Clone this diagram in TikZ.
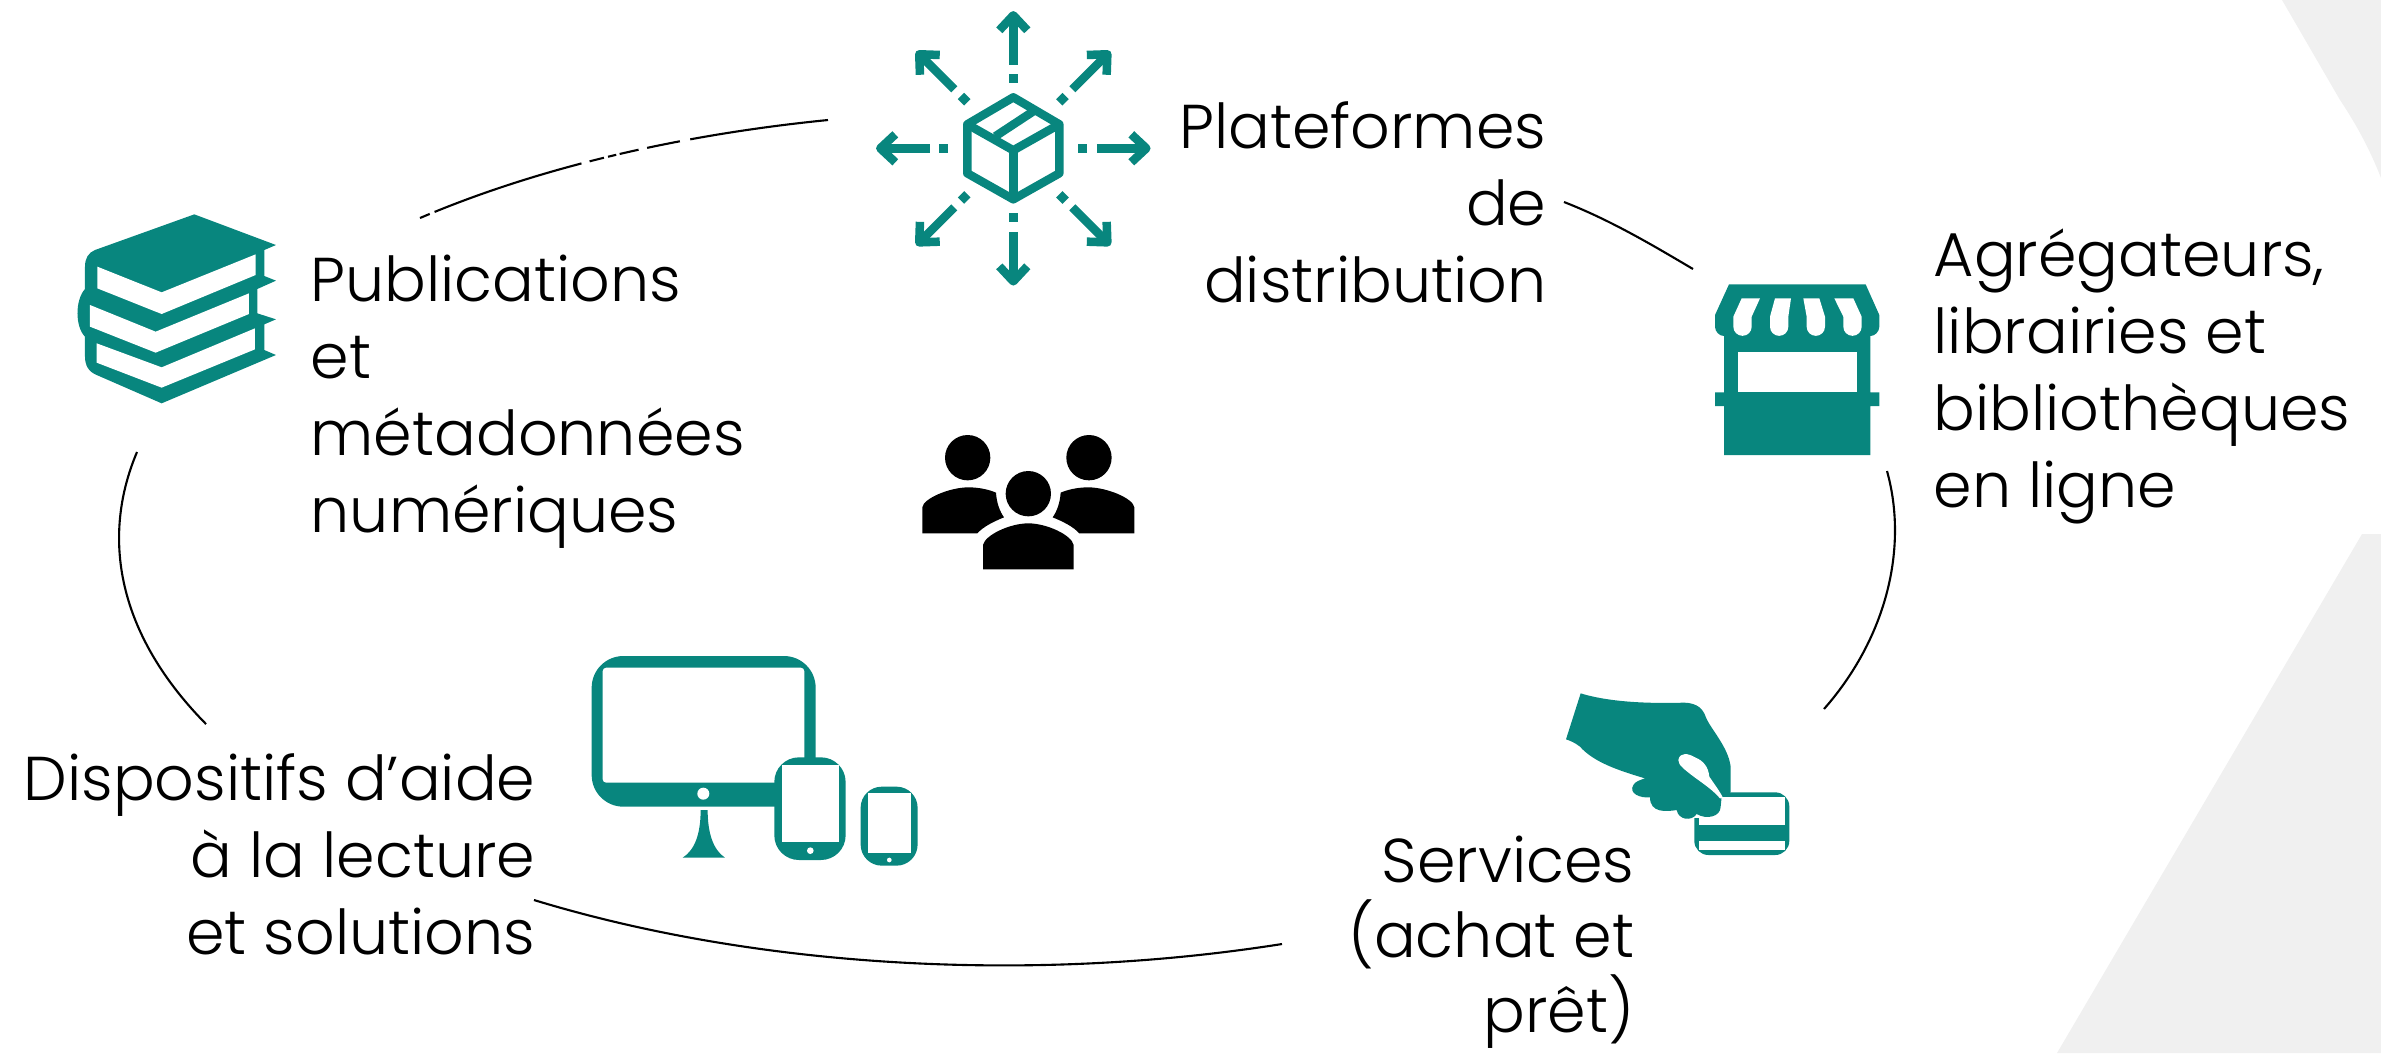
\documentclass[tikz,border=0pt]{standalone}
\usepackage{fontspec}
\setmainfont{Poppins Light}
\definecolor{sarcelle}{HTML}{08867E}
\definecolor{fond}{HTML}{F0F0F0}
\tikzset{
    etiquette/.style={inner sep=0pt,font=\fontsize{17.6}{21.9}\selectfont},
    icone/.style={fill=sarcelle,draw=none},
    creux/.style={fill=white,draw=none},
    ligne/.style={black,line width=0.6pt},
    trait/.style={sarcelle,line width=0.085cm,line join=round}
}
\begin{document}
\begin{tikzpicture}[x=0.01cm,y=-0.01cm]
\useasboundingbox (0,0) rectangle (2381,1053);

%Fond
\fill[fond] (2282,0) -- (2340,100) .. controls (2360,130) and (2372,155) .. (2381,178) -- (2381,0) -- cycle;
\fill[fond] (2381,534) -- (2362,534) -- (2057,1053) -- (2381,1053) -- cycle;

%Etiquettes
\node[etiquette,anchor=north east,align=right] (plateformes) at (1547,101) {Plateformes\\de\\distribution};
\node[etiquette,anchor=north west,align=left] (publications) at (310,254) {Publications\\et\\métadonnées\\numériques};
\node[etiquette,anchor=north west,align=left] (agregateurs) at (1933,228) {Agrégateurs,\\librairies et\\bibliothèques\\en ligne};
\node[etiquette,anchor=north east,align=right] (dispositifs) at (536,753) {Dispositifs d’aide\\à la lecture\\et solutions};
\node[etiquette,anchor=north east,align=right,font=\fontsize{17.6}{21.3}\selectfont] (services) at (1635,835) {Services\\(achat et\\prêt)};

%Liaisons
\coordinate (publiA) at (420,218);
\coordinate (platA) at (828,120);
\coordinate (platB) at (1564,202);
\coordinate (agregA) at (1693,269);
\coordinate (agregB) at (1887,471);
\coordinate (servA) at (1824,709);
\coordinate (servB) at (1282,944);
\coordinate (dispA) at (534,900);
\coordinate (dispB) at (206,724);
\coordinate (publiB) at (137,452);
\draw[ligne,dash pattern=on 3pt off 1.5pt on 44pt off 2.4pt on 4.2pt off 1.2pt on 2.4pt off 1pt on 5.5pt off 2.5pt on 9.5pt off 3pt on 60pt] (publiA) .. controls (536,168.5) and (676.4,135.1) .. (platA);
\draw[ligne] (platB) .. controls (1611.5,220.5) and (1654.3,246.2) .. (agregA);
\draw[ligne] (agregB) .. controls (1908.4,547.6) and (1886.6,637.8) .. (servA);
\draw[ligne] (servB) .. controls (1031.4,983.5) and (756.9,968) .. (dispA);
\draw[ligne] (dispB) .. controls (122.6,639.5) and (98.3,543.7) .. (publiB);

%Colis et fleches
\begin{scope}[shift={(1013.3,148.3)}]
\foreach \a in {0,45,...,315}{
    \begin{scope}[rotate=\a]
    \fill[sarcelle] (-4.5,-74) rectangle (4.5,-65);
    \draw[trait] (0,-83.5) -- (0,-130);
    \draw[trait] (-14,-118) -- (0,-133) -- (14,-118);
    \end{scope}
}
\draw[trait] (0,-51) -- (46,-24) -- (46,25) -- (0,51) -- (-46,25) -- (-46,-24) -- cycle;
\draw[trait] (-46,-24) -- (0,2) -- (46,-24);
\draw[trait] (0,2) -- (0,51);
\draw[trait] (-18,-12) -- (20,-37);
\end{scope}

%Livres
\begin{scope}[shift={(50,190)},scale=0.3333]
\fill[icone] (433,73) -- (678,165) -- (643,180) -- (643,258) -- (678,272) -- (622,297) -- (622,370) -- (678,388) -- (643,403) -- (643,480) -- (678,495) -- (335,640) -- (140,555) .. controls (115,545) and (105,525) .. (105,500) -- (105,440) .. controls (75,410) and (75,330) .. (105,297) -- (105,230) .. controls (105,205) and (115,188) .. (135,180) -- cycle;
\fill[creux] (142,230) -- (335,307) -- (617,193) -- (617,255) -- (335,372) -- (142,295) -- cycle;
\fill[creux] (120,345) -- (317,425) -- (597,310) -- (597,372) -- (317,488) -- (120,410) -- cycle;
\fill[creux] (140,460) -- (335,532) -- (615,415) -- (615,478) -- (335,593) -- (140,518) -- cycle;
\end{scope}

%Boutique
\begin{scope}[shift={(1690,260)},scale=0.3333]
\fill[icone] (117,73) -- (527,73) -- (568,165) -- (568,200) .. controls (568,215) and (555,228) .. (541,228) -- (541,397) -- (568,397) -- (568,438) -- (541,438) -- (541,585) -- (102,585) -- (102,438) -- (75,438) -- (75,397) -- (102,397) -- (102,228) .. controls (88,228) and (75,215) .. (75,200) -- (75,165) -- cycle;
\fill[creux] (143,277) rectangle (500,397);
\foreach \ha/\hb/\ba/\bb in {155/210/130/185,255/303/240/295,340/388/350/405,433/490/460/515}{
    \fill[creux] (\ha,115) -- (\hb,115) -- (\bb,170) -- (\bb,200) arc[start angle=0,end angle=180,radius=27.5] -- (\ba,170) -- cycle;
}
\end{scope}

%Main et carte
\begin{scope}[shift={(1540,670)},scale=0.3333]
\fill[icone,rounded corners=4pt] (463,367) rectangle (748,555);
\fill[creux] (478,380) rectangle (735,465);
\fill[creux] (478,512) rectangle (735,540);
\fill[creux] (440,367) rectangle (478,445);
\fill[icone] (122,70) .. controls (220,100) and (350,100) .. (430,98) .. controls (475,98) and (490,120) .. (497,140) .. controls (510,175) and (565,230) .. (572,290) -- (572,367) -- (545,380) -- (542,410) .. controls (542,440) and (500,450) .. (470,432) .. controls (455,455) and (415,450) .. (410,420) .. controls (380,425) and (330,430) .. (330,382) .. controls (300,385) and (265,370) .. (280,345) .. controls (285,335) and (300,330) .. (315,325) .. controls (230,300) and (160,275) .. (120,230) .. controls (105,218) and (90,212) .. (78,208) -- cycle;
\fill[creux] (415,270) .. controls (420,245) and (445,250) .. (465,262) .. controls (490,272) and (505,290) .. (508,320) .. controls (525,345) and (540,365) .. (550,385) -- (540,385) .. controls (510,350) and (470,330) .. (430,295) .. controls (420,285) and (415,280) .. (415,270) -- cycle;
\end{scope}

%Ecrans
\begin{scope}[shift={(570,640)},scale=0.3333]
\fill[icone,rounded corners=9pt] (65,48) rectangle (737,500);
\fill[creux,rounded corners=1pt] (98,83) rectangle (703,428);
\fill[creux] (400,461) circle[radius=18];
\fill[icone] (392,510) -- (413,510) .. controls (413,580) and (430,630) .. (465,653) -- (338,653) .. controls (375,630) and (392,580) .. (392,510) -- cycle;
\fill[icone,rounded corners=7pt] (613,352) rectangle (827,660);
\fill[creux] (636,374) rectangle (806,607);
\fill[creux] (721,632) circle[radius=10];
\fill[icone,rounded corners=6pt] (872,440) rectangle (1043,677);
\fill[creux] (893,458) rectangle (1022,638);
\fill[creux] (958,660) circle[radius=7];
\end{scope}

%Lecteurs
\begin{scope}[shift={(900,420)},scale=0.3333]
\fill[black] (203,113) circle[radius=68];
\fill[black] (567,113) circle[radius=68];
\fill[black] (385,221) circle[radius=68];
\fill[black] (67,340) -- (67,262) .. controls (70,235) and (150,202) .. (205,202) .. controls (240,202) and (270,210) .. (288,218) .. controls (290,250) and (300,275) .. (312,292) .. controls (280,305) and (250,320) .. (232,340) -- cycle;
\fill[black] (703,340) -- (703,262) .. controls (700,235) and (620,202) .. (565,202) .. controls (530,202) and (500,210) .. (482,218) .. controls (480,250) and (470,275) .. (458,292) .. controls (490,305) and (520,320) .. (538,340) -- cycle;
\fill[black] (249,448) -- (249,375) .. controls (255,345) and (330,310) .. (385,310) .. controls (440,310) and (515,345) .. (521,375) -- (521,448) -- cycle;
\end{scope}
\end{tikzpicture}
\end{document}
